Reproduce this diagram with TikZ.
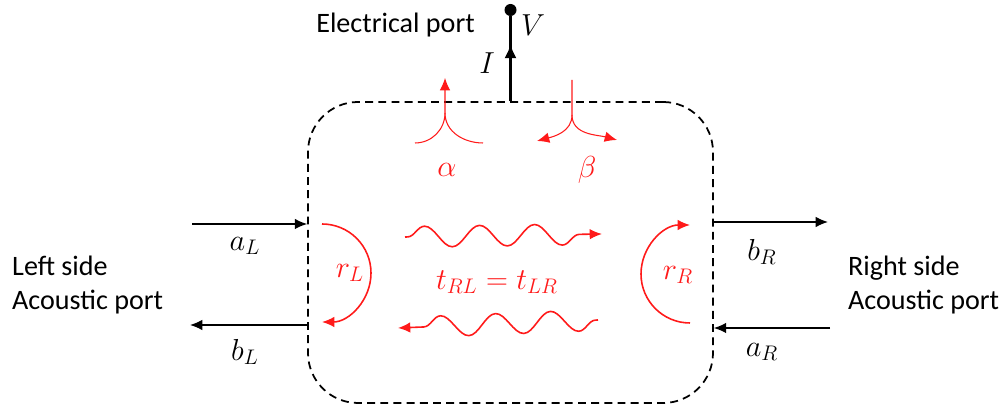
\documentclass[tikz,border=0pt]{standalone}
\usepackage{fontspec}
\setmainfont{Carlito}
\usetikzlibrary{arrows.meta,positioning,decorations.pathmorphing}
\definecolor{waveRed}{HTML}{FF1A1A}

\begin{document}
\begin{tikzpicture}[>=Latex,font=\fontsize{16}{19}\selectfont,
  port/.style={line width=0.75pt,-{Latex[length=7pt,width=6pt]}},
  refl/.style={draw=waveRed,line width=0.9pt,-{Latex[length=7pt,width=6pt]}},
  thin red/.style={draw=waveRed,line width=0.6pt},
  wave/.style={draw=waveRed,line width=0.9pt,-{Latex[length=7pt,width=6pt]},decorate,
    decoration={snake,segment length=1.1cm,amplitude=0.21cm,pre length=0.5mm,post length=2mm}},
  mlbl/.style={font=\fontsize{18}{20}\selectfont},
  redlbl/.style={mlbl,text=waveRed,inner sep=1pt}]
  \useasboundingbox (0,0) rectangle (20.06,8.24);

  \node[draw,line width=1pt,dash pattern=on 4.5pt off 3pt,rounded corners=1cm,
        minimum width=8.1cm,minimum height=6.02cm] (dev) at (10.21,3.19) {};

  % electrical port
  \node[circle,fill,inner sep=0pt,minimum size=0.24cm] (vdot) at (10.21,8.04) {};
  \draw[line width=1.6pt] (dev.north) -- (vdot);
  \draw[line width=1.6pt,-{Latex[length=8pt,width=7pt]}] (dev.north) -- ++(0,1.14);
  \node[anchor=east] (eport) at (9.62,7.74) {Electrical port};
  \node[mlbl] (vlbl) at (10.66,7.74) {$V$};
  \node[mlbl] (ilbl) at (9.74,6.98) {$I$};

  % alpha and beta
  \coordinate (aJ) at (8.9,5.98);
  \coordinate (aTop) at (8.9,6.68);
  \coordinate (aLeft) at (8.3,5.38);
  \coordinate (aRight) at (9.66,5.38);
  \draw[thin red] (aRight) to[out=180,in=-90] (aJ);
  \draw[thin red,-{Latex[length=7pt,width=6pt]}] (aLeft) to[out=0,in=-90] (aJ) -- (aTop);
  \node[redlbl] (alpha) at (8.94,4.84) {$\alpha$};

  \coordinate (bTop) at (11.44,6.64);
  \coordinate (bJ) at (11.44,5.94);
  \coordinate (bLeft) at (10.74,5.42);
  \coordinate (bRight) at (12.34,5.44);
  \draw[thin red,-{Latex[length=7pt,width=6pt]}] (bTop) -- (bJ) to[out=-90,in=15] (bLeft);
  \draw[thin red,-{Latex[length=7pt,width=6pt]}] (bJ) to[out=-90,in=165] (bRight);
  \node[redlbl] (beta) at (11.74,4.84) {$\beta$};

  % left acoustic port
  \coordinate (aLin) at (3.84,3.76);
  \coordinate (bLout) at (3.8,1.74);
  \draw[port] (aLin) -- (aLin -| dev.west);
  \draw[port] (bLout -| dev.west) -- (bLout);
  \node[mlbl] (aL) at (4.9,3.32) {$a_L$};
  \node[mlbl] (bL) at (4.9,1.2) {$b_L$};
  \node[align=left,anchor=west] (lside) at (0.12,2.54) {Left side\\Acoustic port};

  % right acoustic port
  \coordinate (bRout) at (16.56,3.8);
  \coordinate (aRin) at (16.6,1.68);
  \draw[port] (bRout -| dev.east) -- (bRout);
  \draw[port] (aRin) -- (aRin -| dev.east);
  \node[mlbl] (bR) at (15.24,3.2) {$b_R$};
  \node[mlbl] (aR) at (15.24,1.2) {$a_R$};
  \node[align=left,anchor=west] (rside) at (16.84,2.54) {Right side\\Acoustic port};

  % reflections
  \draw[refl] (6.44,3.76) arc[start angle=90,end angle=-90,radius=0.98];
  \node[redlbl] (rL) at (7.0,2.78) {$r_L$};
  \draw[refl] (13.8,1.78) arc[start angle=-90,end angle=-270,radius=0.98];
  \node[redlbl] (rR) at (13.56,2.74) {$r_R$};

  % transmission
  \draw[wave] (8.1,3.5) -- (12.04,3.56);
  \draw[wave] (11.96,1.84) -- (7.96,1.68);
  \node[redlbl] (trans) at (9.94,2.6) {$t_{RL}=t_{LR}$};
\end{tikzpicture}
\end{document}
